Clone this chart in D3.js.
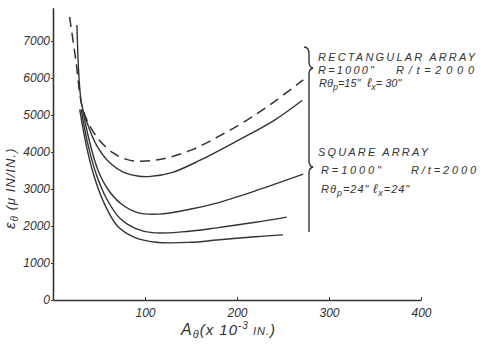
<!DOCTYPE html>
<html>
<head>
<meta charset="utf-8">
<script src="https://cdn.jsdelivr.net/npm/d3@7"></script>
<style>
  body { margin: 0; background: #fff; }
  svg text { font-family: "Liberation Sans", "DejaVu Sans", sans-serif; font-style: italic; fill: #333; }
</style>
</head>
<body>
<svg id="chart" width="481" height="345"></svg>
<script>
// A_theta (x 10^-3 in.) vs strain (micro in/in)
var rectDashed = [[18,7650],[25,6450],[31,5300],[38,4800],[50,4330],[65,3980],[80,3800],[95,3750],[120,3820],[150,4050],[180,4420],[210,4850],[240,5350],[272,5950]];
var rectSolid = [[26,7430],[31,5300],[37,4800],[47,4200],[62,3700],[77,3450],[92,3350],[106,3340],[130,3450],[160,3780],[200,4300],[240,4850],[271,5400]];
var square1 = [[32,5150],[40,4250],[49,3500],[60,2980],[74,2600],[92,2360],[115,2320],[150,2460],[178,2620],[220,2950],[272,3400]];
var square2 = [[30.5,5150],[38,4200],[47,3400],[58,2750],[73,2200],[90,1930],[108,1820],[140,1840],[178,1950],[220,2100],[254,2240]];
var square3 = [[29,5150],[36,4200],[44,3400],[55,2650],[70,2000],[88,1700],[112,1560],[150,1560],[178,1620],[220,1710],[250,1760]];
var yTicks = [0,1000,2000,3000,4000,5000,6000,7000];
var xTicks = [100,200,300,400];

var svg = d3.select("#chart");
var x = d3.scaleLinear().domain([0,400]).range([53,421]);
var y = d3.scaleLinear().domain([0,7900]).range([300,7.7]);

var ink = "#333";

var yAxis = svg.append("g")
    .attr("transform","translate(53,0)")
    .call(d3.axisLeft(y).tickValues(yTicks).tickFormat(d3.format("d")).tickSize(2).tickSizeOuter(0).tickPadding(1));
var xAxis = svg.append("g")
    .attr("transform","translate(0,300)")
    .call(d3.axisBottom(x).tickValues(xTicks).tickFormat(d3.format("d")).tickSize(-3).tickSizeOuter(0).tickPadding(6));

[yAxis, xAxis].forEach(function(g) {
  g.select(".domain").attr("stroke", ink).attr("stroke-width", 1.6);
  g.selectAll(".tick line").attr("stroke", ink);
  g.selectAll(".tick text").attr("font-size", 12).attr("fill", ink)
      .style("font-family","'Liberation Sans', sans-serif").style("font-style","italic");
});
xAxis.selectAll(".tick text").attr("dy", "0.9em");

var line = d3.line()
    .x(function(d) { return x(d[0]); })
    .y(function(d) { return y(d[1]); })
    .curve(d3.curveCatmullRom.alpha(0.5));

svg.append("path").datum(rectDashed).attr("d", line)
    .attr("fill","none").attr("stroke", ink).attr("stroke-width",1.5).attr("stroke-dasharray","10,6");
[rectSolid, square1, square2, square3].forEach(function(s) {
  svg.append("path").datum(s).attr("d", line)
      .attr("fill","none").attr("stroke", ink).attr("stroke-width",1.4);
});

// brace
svg.append("path")
    .attr("d","M304,47 Q309,47 309,54 L309,62 Q309,67 313,68 Q309,69 309,74 L309,161 Q309,166 313,167 Q309,168 309,173 L309,232")
    .attr("fill","none").attr("stroke", ink).attr("stroke-width",1.4);

// annotation text
function label(t, x0, y0, w, fs) {
  var el = svg.append("text").attr("x", x0).attr("y", y0).attr("font-size", fs || 11);
  if (w) el.attr("textLength", w).attr("lengthAdjust","spacing");
  el.text(t);
  return el;
}
label("RECTANGULAR ARRAY", 318, 61, 157);
label("R=1000\"", 318, 74, 56);
label("R/t=2000", 396, 74, 78);
var r1 = svg.append("text").attr("x",319).attr("y",87).attr("font-size",11);
r1.append("tspan").text("Rθ");
r1.append("tspan").attr("font-size",9).attr("dy",3).text("p");
r1.append("tspan").attr("dy",-3).text("=15\"");
var l1 = svg.append("text").attr("x",367).attr("y",87).attr("font-size",11);
l1.append("tspan").attr("font-size",13).text("ℓ");
l1.append("tspan").attr("font-size",9).attr("dy",3).text("x");
l1.append("tspan").attr("dy",-3).text("= 30\"");

label("SQUARE ARRAY", 318, 156, 110);
label("R=1000\"", 321, 174, 60);
label("R/t=2000", 411, 174, 65);
var r2 = svg.append("text").attr("x",321).attr("y",193).attr("font-size",11).attr("letter-spacing",1);
r2.append("tspan").text("Rθ");
r2.append("tspan").attr("font-size",9).attr("dy",3).text("p");
r2.append("tspan").attr("dy",-3).text("=24\"");
var l2 = svg.append("text").attr("x",373).attr("y",193).attr("font-size",11).attr("letter-spacing",1);
l2.append("tspan").attr("font-size",13).text("ℓ");
l2.append("tspan").attr("font-size",9).attr("dy",3).text("x");
l2.append("tspan").attr("dy",-3).text("=24\"");

// axis titles
var xt = svg.append("text").attr("x",181).attr("y",335).attr("font-size",16).attr("letter-spacing",1);
xt.append("tspan").text("A");
xt.append("tspan").attr("font-size",11).attr("dy",3).text("θ");
xt.append("tspan").attr("dy",-3).attr("font-size",15).text("(x 10");
xt.append("tspan").attr("font-size",10).attr("dy",-6).text("-3");
xt.append("tspan").attr("font-size",11).attr("dy",6).text(" IN.");
xt.append("tspan").attr("font-size",15).text(")");

var yt = svg.append("text").attr("transform","translate(15,229) rotate(-90)").attr("font-size",13).attr("letter-spacing",1);
yt.append("tspan").attr("font-size",15).text("ε");
yt.append("tspan").attr("font-size",10).attr("dy",3).text("θ");
yt.append("tspan").attr("dy",-3).text(" (μ IN/IN.)");
</script>
</body>
</html>
